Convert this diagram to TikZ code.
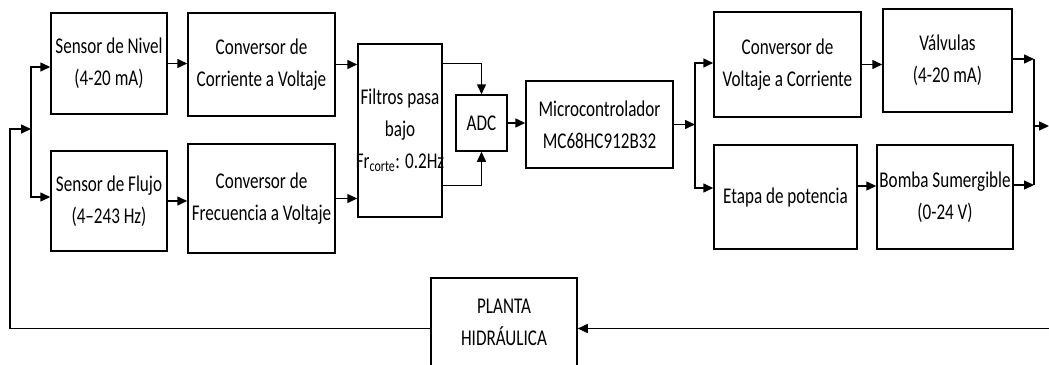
\documentclass[tikz,border=0pt]{standalone}
\usepackage{fontspec}
\setmainfont{Carlito}[FakeStretch=0.76]
\usetikzlibrary{arrows.meta}
\tikzset{
  bd box/.style={draw=black, line width=1.5pt, fill=white, align=center,
    inner sep=1pt, font=\fontsize{22.5}{32}\selectfont},
  bd arrow/.style={-{Triangle[length=10pt,width=9pt]}, line width=1.5pt},
  bd line/.style={line width=1.5pt}
}
\begin{document}
\begin{tikzpicture}[x=1pt, y=-1pt]
  \useasboundingbox[fill=white] (0,0) rectangle (1049,364);
  % sensores y acondicionamiento
  \node[bd box, minimum width=116pt, minimum height=101pt] (nivel) at (109,63.5) {Sensor de Nivel\\(4-20 mA)};
  \node[bd box, minimum width=147pt, minimum height=103pt] (corriente) at (261.5,64.5) {Conversor de\\Corriente a Voltaje};
  \node[bd box, minimum width=116pt, minimum height=100pt] (flujo) at (109,201) {Sensor de Flujo\\(4--243 Hz)};
  \node[bd box, minimum width=147pt, minimum height=109pt] (frecuencia) at (261.5,198.5) {Conversor de\\Frecuencia a Voltaje};
  \node[bd box, minimum width=84pt, minimum height=173pt, inner xsep=-4pt] (filtros) at (400,130.5) {Filtros pasa\\bajo\\Fr\textsubscript{corte}: 0.2Hz};
  \node[bd box, minimum width=51pt, minimum height=56pt] (adc) at (481.5,123) {ADC};
  \node[bd box, minimum width=147pt, minimum height=87pt] (micro) at (599.5,124.5) {Microcontrolador\\MC68HC912B32};
  % actuadores
  \node[bd box, minimum width=147pt, minimum height=105pt] (vi) at (787.5,64.5) {Conversor de\\Voltaje a Corriente};
  \node[bd box, minimum width=129pt, minimum height=103pt] (valvulas) at (947.5,60.5) {Válvulas\\(4-20 mA)};
  \node[bd box, minimum width=143pt, minimum height=104pt] (etapa) at (785.5,197) {Etapa de potencia};
  \node[bd box, minimum width=136pt, minimum height=104pt] (bomba) at (945,197) {Bomba Sumergible\\(0-24 V)};
  \node[bd box, minimum width=146pt, minimum height=88pt] (planta) at (504,322) {PLANTA\\HIDRÁULICA};

  % puntos de union
  \coordinate (fb) at (10,129);
  \coordinate (jl) at (31,129);
  \coordinate (jr) at (695,124.5);
  \coordinate (js) at (1034,126);
  \coordinate (out) at (1049,126);
  \coordinate (back) at (1049,328.5);
  \coordinate (eb) at ([yshift=11pt]etapa.east);
  \coordinate (bb) at ([yshift=12pt]bomba.east);
  \coordinate (vb) at ([yshift=1.5pt]valvulas.east);

  \draw[bd arrow] (jl) |- ([yshift=-3.5pt]nivel.west);
  \draw[bd arrow] (jl) |- ([yshift=4pt]flujo.west);
  \draw[bd arrow] (nivel.east) -- (nivel.east -| corriente.west);
  \draw[bd arrow] (flujo.east) -- (flujo.east -| frecuencia.west);
  \draw[bd arrow] (corriente.east) -- (corriente.east -| filtros.west);
  \draw[bd arrow] (frecuencia.east) -- (frecuencia.east -| filtros.west);
  \draw[bd arrow] ([yshift=67pt]filtros.east) -| (adc.north);
  \draw[bd arrow] ([yshift=-55pt]filtros.east) -| (adc.south);
  \draw[bd arrow] (adc.east) -- (adc.east -| micro.west);
  \draw[bd arrow] (micro.east) -- (jr);
  \draw[bd arrow] (jr) |- ([yshift=1.5pt]vi.west);
  \draw[bd arrow] (jr) |- ([yshift=9pt]etapa.west);
  \draw[bd arrow] (vi.east) -- (vi.east -| valvulas.west);
  \draw[bd arrow] (eb) -- (eb -| bomba.west);
  \draw[bd arrow] (vb) -- (vb -| js);
  \draw[bd arrow] (bb) -- (bb -| js);
  \draw[bd line] (vb -| js) -- (bb -| js);
  \draw[bd arrow] (js) -- (out);
  % realimentacion
  \draw[bd arrow] (back) -- (back -| planta.east);
  \draw[bd arrow] (back -| planta.west) -| (fb) -- (jl);
\end{tikzpicture}
\end{document}
